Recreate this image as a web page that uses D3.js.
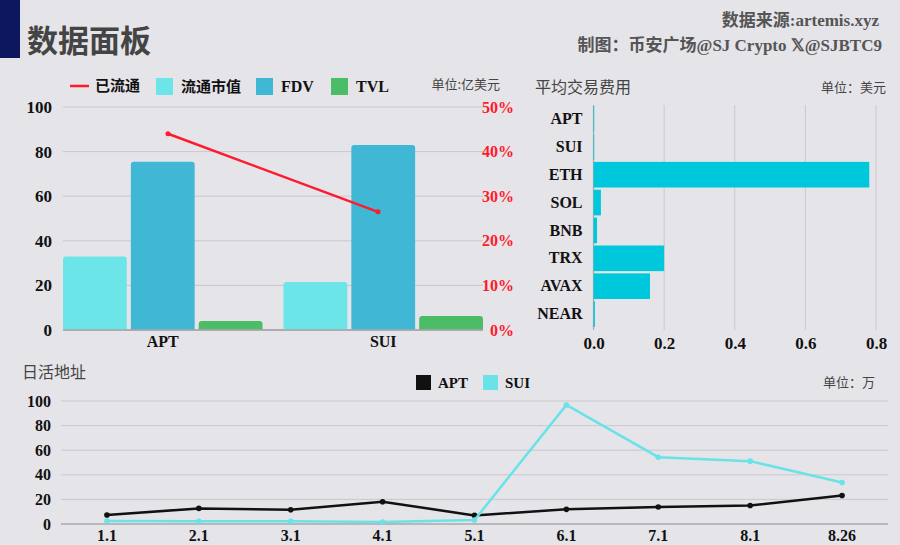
<!DOCTYPE html>
<html><head><meta charset="utf-8">
<script src="https://cdn.jsdelivr.net/npm/d3@7/dist/d3.min.js"></script>
<style>
html,body{margin:0;padding:0;background:#e5e4e9;}
svg{display:block;font-family:"Liberation Serif","Noto Sans CJK SC",serif;}
</style></head>
<body><svg id="c" width="900" height="545"></svg>
<script>
// ---- data ----
const chains = ["APT", "SUI"];
const circMcap = [33, 21.5];      // 流通市值 (亿美元)
const fdv = [75.5, 83];           // FDV
const tvl = [4, 6.3];             // TVL
const circPct = [44, 26.5];       // 已流通 %
const leftTicks = [0, 20, 40, 60, 80, 100];
const rightTicks = [0, 10, 20, 30, 40, 50];

const feeChains = ["APT", "SUI", "ETH", "SOL", "BNB", "TRX", "AVAX", "NEAR"];
const feeValues = [0.002, 0.002, 0.781, 0.021, 0.01, 0.2, 0.16, 0.004];
const feeTicks = [0, 0.2, 0.4, 0.6, 0.8];

const dates = ["1.1", "2.1", "3.1", "4.1", "5.1", "6.1", "7.1", "8.1", "8.26"];
const aptDaily = [7.3, 12.7, 11.6, 18.1, 7.0, 11.9, 13.8, 15.1, 23.2];
const suiDaily = [2.4, 2.2, 2.2, 1.6, 3.2, 96.8, 54.3, 51.1, 33.7];
const dailyTicks = [0, 20, 40, 60, 80, 100];

// ---- styles ----
const C = {cm:"#6ce5e8", fdv:"#40b7d5", tvl:"#4cbd66", red:"#ff1a2e", fee:"#00c8dc", grid:"#c9c8cd", axis:"#a9a8ad", apt:"#111111", sui:"#6ae3e8"};
const svg = d3.select("#c");

// header
svg.append("rect").attr("x",0).attr("y",0).attr("width",20).attr("height",58).attr("fill","#0c175e");
svg.append("text").attr("x",27).attr("y",52).attr("font-size",31).attr("font-weight","bold").attr("fill","#444").attr("font-family","Noto Sans CJK SC").text("数据面板");
svg.append("text").attr("x",879).attr("y",26).attr("text-anchor","end").attr("font-size",17).attr("font-weight","bold").attr("fill","#555").text("数据来源:artemis.xyz");
svg.append("text").attr("x",882).attr("y",51).attr("text-anchor","end").attr("font-size",17).attr("font-weight","bold").attr("fill","#555").text("制图：币安广场@SJ Crypto 𝕏@SJBTC9");

function gridY(g, y, ticks, x0, x1){
  g.selectAll(null).data(ticks.filter(t=>t!==0)).enter().append("line")
    .attr("x1",x0).attr("x2",x1).attr("y1",d=>y(d)).attr("y2",d=>y(d))
    .attr("stroke",C.grid).attr("stroke-width",1);
  g.append("line").attr("x1",x0).attr("x2",x1).attr("y1",y(0)).attr("y2",y(0)).attr("stroke",C.axis).attr("stroke-width",1.5);
}

// ---- chart 1 ----
{
  const g = svg.append("g");
  const x0 = 63, x1 = 483;
  const y = d3.scaleLinear().domain([0,100]).range([330,107]);
  const yr = d3.scaleLinear().domain([0,50]).range([330,107]);
  const xb = d3.scaleBand().domain(chains).range([x0,x1]).paddingInner(0.095).paddingOuter(0);
  const xl = d3.scaleBand().domain(chains).range([x0,x1]).padding(0);
  const series = [{k:"流通市值",v:circMcap,c:C.cm},{k:"FDV",v:fdv,c:C.fdv},{k:"TVL",v:tvl,c:C.tvl}];
  const xs = d3.scaleBand().domain(series.map(s=>s.k)).range([0,xb.bandwidth()]).paddingInner(0.06);
  gridY(g, y, leftTicks, x0, x1);
  const la = g.append("g").attr("transform",`translate(${x0},0)`).call(d3.axisLeft(y).tickValues(leftTicks).tickSize(0).tickPadding(11));
  la.select(".domain").remove();
  la.selectAll("text").attr("font-size",17).attr("font-weight","bold").attr("fill","#111").attr("font-family","Liberation Serif");
  const ra = g.append("g").attr("transform",`translate(514,0)`).call(d3.axisLeft(yr).tickValues(rightTicks).tickSize(0).tickPadding(0).tickFormat(d=>d+"%"));
  ra.select(".domain").remove();
  ra.selectAll("text").attr("font-size",16).attr("font-weight","bold").attr("fill",C.red).attr("font-family","Liberation Serif");
  series.forEach(s=>{
    chains.forEach((ch,i)=>{
      const bx = xb(ch)+xs(s.k), bw = xs.bandwidth(), top = y(s.v[i]), h = y(0)-top, r = Math.min(3,h);
      g.append("path").attr("fill",s.c)
        .attr("d",`M${bx},${y(0)}V${top+r}Q${bx},${top} ${bx+r},${top}H${bx+bw-r}Q${bx+bw},${top} ${bx+bw},${top+r}V${y(0)}Z`);
    });
  });
  g.append("line").attr("x1",x0).attr("x2",x1).attr("y1",y(0)).attr("y2",y(0)).attr("stroke",C.axis).attr("stroke-width",1.5);
  const xa = g.append("g").attr("transform",`translate(0,${y(0)})`).call(d3.axisBottom(xb).tickSize(0).tickPadding(6));
  xa.select(".domain").remove();
  xa.selectAll("text").attr("font-size",16).attr("font-weight","bold").attr("fill","#111").attr("font-family","Liberation Serif");
  const line = d3.line().x((d,i)=>xl(chains[i])+xl.bandwidth()/2).y(d=>yr(d));
  g.append("path").datum(circPct).attr("d",line).attr("fill","none").attr("stroke",C.red).attr("stroke-width",2.5);
  g.selectAll(null).data(circPct).enter().append("circle").attr("cx",(d,i)=>xl(chains[i])+xl.bandwidth()/2).attr("cy",d=>yr(d)).attr("r",2.5).attr("fill",C.red);
  const lg = g.append("g").attr("font-size",15).attr("font-weight","bold").attr("fill","#111");
  lg.append("line").attr("x1",70).attr("x2",89).attr("y1",86).attr("y2",86).attr("stroke",C.red).attr("stroke-width",2.5);
  lg.append("text").attr("x",95).attr("y",91).attr("font-family","Noto Sans CJK SC").text("已流通");
  const items = [{x:156,c:C.cm,t:"流通市值",f:"Noto Sans CJK SC"},{x:256,c:C.fdv,t:"FDV",f:"Liberation Serif"},{x:331,c:C.tvl,t:"TVL",f:"Liberation Serif"}];
  items.forEach(it=>{
    lg.append("rect").attr("x",it.x).attr("y",78).attr("width",17).attr("height",17).attr("fill",it.c);
    lg.append("text").attr("x",it.x+25).attr("y",92).attr("font-size",it.f==="Liberation Serif"?16:15).attr("font-family",it.f).text(it.t);
  });
  g.append("text").attr("x",500).attr("y",89).attr("text-anchor","end").attr("font-size",13).attr("fill","#444").attr("font-family","Noto Sans CJK SC").text("单位:亿美元");
}

// ---- chart 2 ----
{
  const g = svg.append("g");
  const x = d3.scaleLinear().domain([0,0.8]).range([593.5,876]);
  const y = d3.scaleBand().domain(feeChains).range([105,328]).paddingInner(0.08).paddingOuter(0.04);
  g.append("text").attr("x",535).attr("y",93).attr("font-size",16).attr("fill","#444").attr("font-family","Noto Sans CJK SC").text("平均交易费用");
  g.append("text").attr("x",886).attr("y",92).attr("text-anchor","end").attr("font-size",13).attr("fill","#444").attr("font-family","Noto Sans CJK SC").text("单位：美元");
  g.selectAll(null).data(feeTicks.filter(t=>t!==0)).enter().append("line")
    .attr("x1",d=>x(d)).attr("x2",d=>x(d)).attr("y1",105).attr("y2",330).attr("stroke",C.grid);
  g.append("line").attr("x1",x(0)).attr("x2",x(0)).attr("y1",105).attr("y2",330).attr("stroke",C.axis).attr("stroke-width",1.2);
  g.selectAll(null).data(feeValues).enter().append("rect")
    .attr("x",x(0)).attr("y",(d,i)=>y(feeChains[i])).attr("height",y.bandwidth())
    .attr("width",d=>x(d)-x(0)).attr("fill",C.fee);
  const ya = g.append("g").attr("transform",`translate(${x(0)},0)`).call(d3.axisLeft(y).tickSize(0).tickPadding(11));
  ya.select(".domain").remove();
  ya.selectAll("text").attr("font-size",16).attr("font-weight","bold").attr("fill","#111").attr("font-family","Liberation Serif");
  const xa = g.append("g").attr("transform",`translate(0,330)`).call(d3.axisBottom(x).tickValues(feeTicks).tickSize(0).tickPadding(7).tickFormat(d3.format(".1f")));
  xa.select(".domain").remove();
  xa.selectAll("text").attr("font-size",17).attr("font-weight","bold").attr("fill","#111").attr("font-family","Liberation Serif");
}

// ---- chart 3 ----
{
  const g = svg.append("g");
  const x0 = 61, x1 = 888;
  const x = d3.scaleBand().domain(dates).range([x0,x1]);
  const y = d3.scaleLinear().domain([0,100]).range([524,401]);
  g.append("text").attr("x",22).attr("y",378).attr("font-size",16).attr("fill","#444").attr("font-family","Noto Sans CJK SC").text("日活地址");
  g.append("text").attr("x",875).attr("y",387).attr("text-anchor","end").attr("font-size",13).attr("fill","#444").attr("font-family","Noto Sans CJK SC").text("单位：万");
  gridY(g, y, dailyTicks, x0, x1);
  const ya = g.append("g").attr("transform",`translate(${x0},0)`).call(d3.axisLeft(y).tickValues(dailyTicks).tickSize(0).tickPadding(10));
  ya.select(".domain").remove();
  ya.selectAll("text").attr("font-size",16).attr("font-weight","bold").attr("fill","#111").attr("font-family","Liberation Serif");
  const xa = g.append("g").attr("transform",`translate(0,524)`).call(d3.axisBottom(x).tickSize(0).tickPadding(6));
  xa.select(".domain").remove();
  xa.selectAll("text").attr("font-size",16).attr("font-weight","bold").attr("fill","#111").attr("font-family","Liberation Serif");
  const cx = d => x(d)+x.bandwidth()/2;
  const line = d3.line().x((d,i)=>cx(dates[i])).y(d=>y(d));
  [{v:aptDaily,c:C.apt},{v:suiDaily,c:C.sui}].forEach(s=>{
    g.append("path").datum(s.v).attr("d",line).attr("fill","none").attr("stroke",s.c).attr("stroke-width",2.5);
    g.selectAll(null).data(s.v).enter().append("circle").attr("cx",(d,i)=>cx(dates[i])).attr("cy",d=>y(d)).attr("r",2.8).attr("fill",s.c);
  });
  const lg = g.append("g").attr("font-size",15).attr("font-weight","bold").attr("fill","#111").attr("font-family","Liberation Serif");
  lg.append("rect").attr("x",416).attr("y",375).attr("width",15).attr("height",15).attr("fill",C.apt);
  lg.append("text").attr("x",438).attr("y",388).text("APT");
  lg.append("rect").attr("x",483).attr("y",375).attr("width",15).attr("height",15).attr("fill",C.sui);
  lg.append("text").attr("x",505).attr("y",388).text("SUI");
}
</script></body></html>
